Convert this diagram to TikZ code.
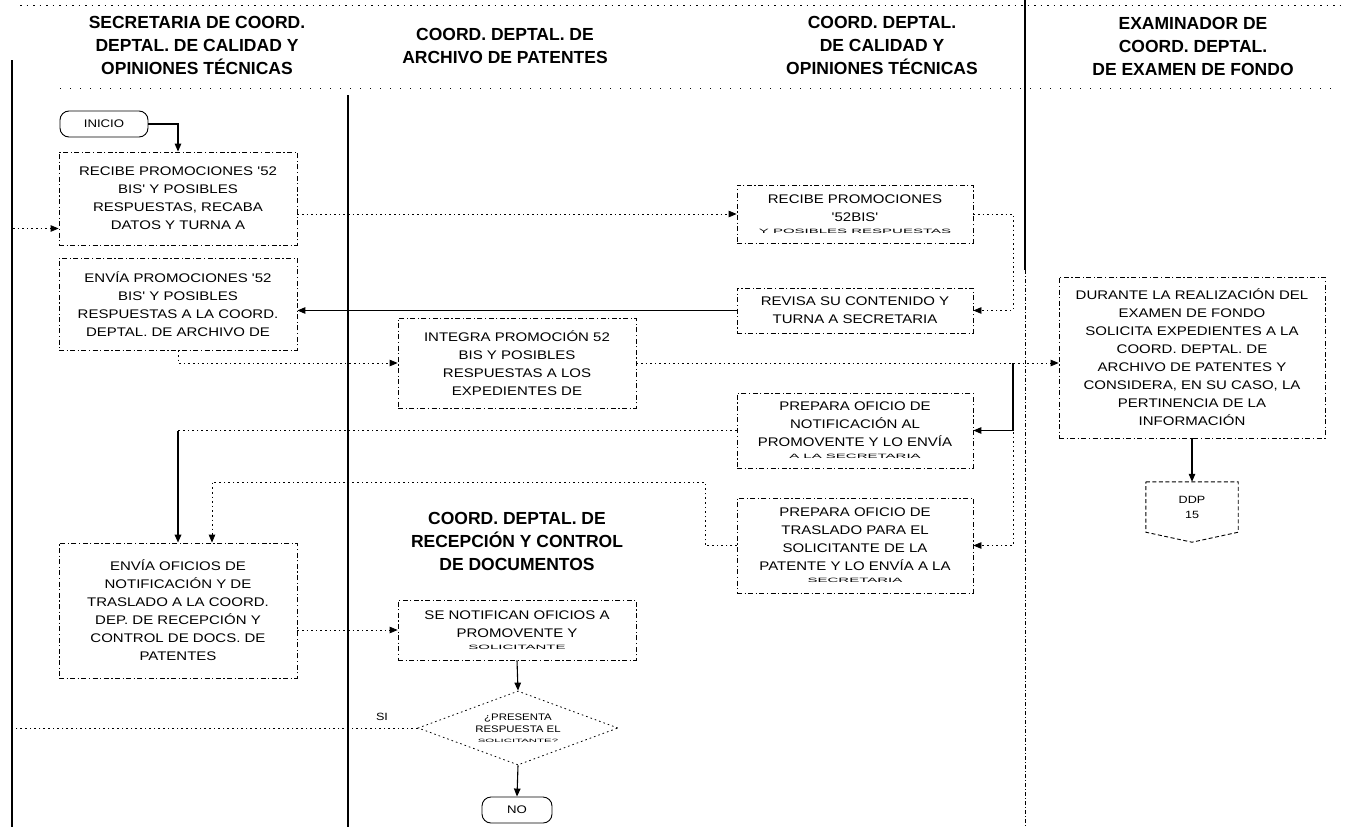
\documentclass[tikz,border=0pt]{standalone}
\usepackage{graphicx}
\usepackage{fontspec}
\setmainfont{Liberation Sans}
\newfontfamily\bxfont[FakeStretch=1.2]{Liberation Sans}
\usetikzlibrary{shapes.geometric,arrows.meta,calc}
\newcommand{\cutline}[1]{\scalebox{1}[0.5]{#1}}
\tikzset{
  box/.style={draw, line width=0.8pt, dash pattern=on 5pt off 2.5pt on 1.2pt off 2.5pt,
    minimum width=238pt, inner sep=2pt, align=center,
    font=\bxfont\fontsize{12.5}{18}\selectfont},
  hdr/.style={align=center, font=\bfseries\fontsize{17.5}{23}\selectfont},
  term/.style={draw, line width=0.9pt, rounded corners=9pt, minimum width=88pt,
    minimum height=26pt, font=\bxfont\fontsize{11}{12}\selectfont},
  arr/.style={-{Triangle[length=8pt,width=6.5pt]}},
  dotln/.style={line width=0.8pt, dash pattern=on 1.6pt off 3pt},
  sol/.style={line width=1.1pt},
  lane/.style={line width=1.3pt},
}
\begin{document}
\begin{tikzpicture}[x=1pt,y=-1pt]
\useasboundingbox (0,0) rectangle (1356,827);
% lanes
\draw[line width=0.7pt, dash pattern=on 1.5pt off 5pt] (20,5) -- (1340,5);
\draw[line width=0.6pt, dash pattern=on 1pt off 9pt] (60,88) -- (1340,88);
\coordinate (bl) at (12,60);
\draw[lane, line width=1.8pt] (bl) -- (12,827);
\draw[lane] (348,95) -- (348,827);
\draw[lane] (1025,0) -- (1025,270);
\draw[line width=0.9pt, dash pattern=on 4pt off 2pt on 1pt off 2pt] (1025,270) -- (1025,827);
% headers
\node[hdr] (h1) at (197,45) {SECRETARIA DE COORD.\\DEPTAL. DE CALIDAD Y\\OPINIONES TÉCNICAS};
\node[hdr] (h2) at (505,46) {COORD. DEPTAL. DE\\ARCHIVO DE PATENTES};
\node[hdr] (h3) at (882,45) {COORD. DEPTAL.\\DE CALIDAD Y\\OPINIONES TÉCNICAS};
\node[hdr] (h4) at (1193,46) {EXAMINADOR DE\\COORD. DEPTAL.\\DE EXAMEN DE FONDO};
\node[hdr] (h5) at (517,541) {COORD. DEPTAL. DE\\RECEPCIÓN Y CONTROL\\DE DOCUMENTOS};
% nodes
\node[term] (ini) at (104,124) {INICIO};
\node[box, minimum height=93pt] (A) at (178,198.5) {RECIBE PROMOCIONES '52\\BIS' Y POSIBLES\\RESPUESTAS, RECABA\\DATOS Y TURNA A};
\node[box, minimum height=92pt] (B) at (178,304) {ENVÍA PROMOCIONES '52\\BIS' Y POSIBLES\\RESPUESTAS A LA COORD.\\DEPTAL. DE ARCHIVO DE};
\node[box, minimum height=90pt] (C) at (517,363) {INTEGRA PROMOCIÓN 52\\BIS Y POSIBLES\\RESPUESTAS A LOS\\EXPEDIENTES DE};
\node[box, minimum width=236pt, minimum height=58pt] (D) at (855,214) {RECIBE PROMOCIONES\\'52BIS'\\[-6pt]\cutline{Y POSIBLES RESPUESTAS}};
\node[box, minimum width=236pt, minimum height=45pt] (E) at (855,310.5) {REVISA SU CONTENIDO Y\\TURNA A SECRETARIA};
\node[box, minimum width=236pt, minimum height=75pt] (F) at (855,430.5) {PREPARA OFICIO DE\\NOTIFICACIÓN AL\\PROMOVENTE Y LO ENVÍA\\[-6pt]\cutline{A LA SECRETARIA}};
\node[box, minimum width=236pt, minimum height=95pt] (G) at (855,545.5) {PREPARA OFICIO DE\\TRASLADO PARA EL\\SOLICITANTE DE LA\\PATENTE Y LO ENVÍA A LA\\[-6pt]\cutline{SECRETARIA}};
\node[box, minimum width=266pt, minimum height=161pt] (H) at (1192,357.5) {DURANTE LA REALIZACIÓN DEL\\EXAMEN DE FONDO\\SOLICITA EXPEDIENTES A LA\\COORD. DEPTAL. DE\\ARCHIVO DE PATENTES Y\\CONSIDERA, EN SU CASO, LA\\PERTINENCIA DE LA\\INFORMACIÓN};
\node[box, minimum height=135pt] (I) at (178,610.5) {ENVÍA OFICIOS DE\\NOTIFICACIÓN Y DE\\TRASLADO A LA COORD.\\DEP. DE RECEPCIÓN Y\\CONTROL DE DOCS. DE\\PATENTES};
\node[box, minimum height=60pt] (J) at (517,630) {SE NOTIFICAN OFICIOS A\\PROMOVENTE Y\\[-6pt]\cutline{SOLICITANTE}};
\node[diamond, draw, dotln, aspect=2.7, minimum width=200pt, minimum height=74pt, inner sep=0pt, align=center,
  font=\bxfont\fontsize{9.5}{12.5}\selectfont] (dia) at (518,728) {¿PRESENTA\\RESPUESTA EL\\[-3pt]\cutline{SOLICITANTE?}};
\node[term, minimum width=70pt] (fin) at (517,810) {NO};
\node[align=center, minimum width=92pt, minimum height=50pt, inner sep=0pt,
  font=\bxfont\fontsize{10.5}{15}\selectfont] (ddp) at (1192,507) {DDP\\15};
\draw[line width=0.9pt, dash pattern=on 4pt off 2.5pt] (ddp.north west) -- (ddp.north east) -- (ddp.south east) -- ($(ddp.south)+(0,10)$) -- (ddp.south west) -- cycle;
% connectors
\coordinate (tj) at (1013,363);
\coordinate (gb) at (705,482);
\coordinate (gi) at ($(I.north)+(34,0)$);
\coordinate (fb) at (F.west -| I.north);
\coordinate (ain) at ($(A.west)+(0,30)$);
\draw[sol,arr] (ini.east) -| (A.north);
\draw[dotln,arr] (D.west -| A.east) -- (D.west);
\draw[dotln,arr] (D.east) -- (D.east -| tj) |- (E.east);
\draw[sol,arr] (E.west) -- (E.west -| B.east);
\draw[dotln,arr] (B.south) |- (C.west);
\draw[dotln,arr] (C.east) -- (C.east -| H.west);
\draw[sol,arr] (tj) |- (F.east);
\draw[dotln,arr] (tj) |- (G.east);
\draw[dotln] (F.west) -- (fb);
\draw[sol,line width=1.8pt,arr] (fb) -- (I.north);
\draw[dotln,arr] (G.west) -| (gb) -| (gi);
\draw[dotln,arr] (J.west -| I.east) -- (J.west);
\draw[sol,arr] (J.south) -- (dia.north);
\draw[sol,arr] (dia.south) -- (fin.north);
\draw[dotln,arr] (dia.west) -- (dia.west -| bl) |- (ain);
\node[font=\bxfont\fontsize{10.5}{12}\selectfont] (si) at (382,717) {SI};
\draw[sol,arr] (H.south) -- (ddp.north);
\end{tikzpicture}
\end{document}
